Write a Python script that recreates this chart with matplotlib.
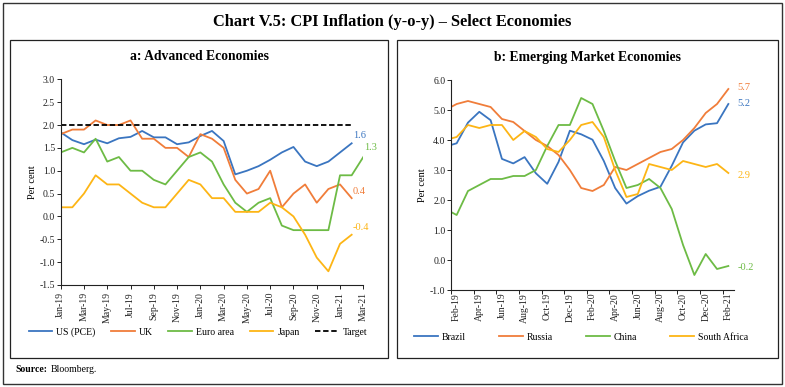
import matplotlib
matplotlib.use("Agg")
import matplotlib.pyplot as plt
from matplotlib.patches import Rectangle

plt.rcParams['font.family'] = ['Liberation Serif', 'DejaVu Serif']

# ---------------- Data ----------------
months_a = ["Jan-19", "Feb-19", "Mar-19", "Apr-19", "May-19", "Jun-19", "Jul-19", "Aug-19",
            "Sep-19", "Oct-19", "Nov-19", "Dec-19", "Jan-20", "Feb-20", "Mar-20", "Apr-20",
            "May-20", "Jun-20", "Jul-20", "Aug-20", "Sep-20", "Oct-20", "Nov-20", "Dec-20",
            "Jan-21", "Feb-21", "Mar-21"]
us_pce = [1.84, 1.67, 1.58, 1.68, 1.60, 1.71, 1.74, 1.87, 1.73, 1.73, 1.58, 1.62, 1.76,
          1.87, 1.65, 0.92, 1.00, 1.10, 1.24, 1.40, 1.52, 1.20, 1.10, 1.20, 1.40, 1.60]
uk = [1.8, 1.9, 1.9, 2.1, 2.0, 2.0, 2.1, 1.7, 1.7, 1.5, 1.5, 1.3, 1.8, 1.7, 1.5, 0.8,
      0.5, 0.6, 1.0, 0.2, 0.5, 0.7, 0.3, 0.6, 0.7, 0.4]
euro = [1.4, 1.5, 1.4, 1.7, 1.2, 1.3, 1.0, 1.0, 0.8, 0.7, 1.0, 1.3, 1.4, 1.2, 0.7, 0.3,
        0.1, 0.3, 0.4, -0.2, -0.3, -0.3, -0.3, -0.3, 0.9, 0.9, 1.3]
japan = [0.2, 0.2, 0.5, 0.9, 0.7, 0.7, 0.5, 0.3, 0.2, 0.2, 0.5, 0.8, 0.7, 0.4, 0.4, 0.1,
         0.1, 0.1, 0.3, 0.2, 0.0, -0.4, -0.9, -1.2, -0.6, -0.4]
target = [2.0] * 26
ticks_a = months_a[::2]

months_b = months_a[:26]
brazil = [3.78, 3.89, 4.58, 4.94, 4.66, 3.37, 3.22, 3.43, 2.89, 2.54, 3.27, 4.31, 4.19,
          4.01, 3.30, 2.40, 1.88, 2.13, 2.31, 2.44, 3.14, 3.92, 4.31, 4.52, 4.56, 5.20]
russia = [5.0, 5.2, 5.3, 5.2, 5.1, 4.7, 4.6, 4.3, 4.0, 3.8, 3.5, 3.0, 2.4, 2.3, 2.5, 3.1,
          3.0, 3.2, 3.4, 3.6, 3.7, 4.0, 4.4, 4.9, 5.2, 5.7]
china = [1.7, 1.5, 2.3, 2.5, 2.7, 2.7, 2.8, 2.8, 3.0, 3.8, 4.5, 4.5, 5.4, 5.2, 4.3, 3.3,
         2.4, 2.5, 2.7, 2.4, 1.7, 0.5, -0.5, 0.2, -0.3, -0.2]
south_africa = [4.0, 4.1, 4.5, 4.4, 4.5, 4.5, 4.0, 4.3, 4.1, 3.7, 3.6, 4.0, 4.5, 4.6, 4.1,
                3.0, 2.1, 2.2, 3.2, 3.1, 3.0, 3.3, 3.2, 3.1, 3.2, 2.9]
ticks_b = months_b[1::2]

BLUE = '#3A75C0'
ORANGE = '#F07D3A'
GREEN = '#6DBB45'
YELLOW = '#FDB515'

W, H = 785, 387
fig = plt.figure(figsize=(W / 100, H / 100), dpi=100)

def fx(px):
    return px / W

def fy(py):
    return 1 - py / H

# frames
fig.patches.append(Rectangle((fx(3), fy(384)), fx(779), 381 / H, transform=fig.transFigure,
                             fill=False, edgecolor='#333333', linewidth=1.0))
fig.patches.append(Rectangle((fx(10), fy(358)), fx(378), 318 / H, transform=fig.transFigure,
                             fill=False, edgecolor='#222222', linewidth=0.9))
fig.patches.append(Rectangle((fx(397), fy(358)), fx(381), 318 / H, transform=fig.transFigure,
                             fill=False, edgecolor='#222222', linewidth=0.9))

fig.text(0.5, fy(22), "Chart V.5: CPI Inflation (y-o-y) – Select Economies", ha='center',
         va='center', fontsize=11.8, fontweight='bold')
fig.text(fx(199), fy(57), "a: Advanced Economies", ha='center', va='center', fontsize=9.8,
         fontweight='bold')
fig.text(fx(588), fy(57), "b: Emerging Market Economies", ha='center', va='center',
         fontsize=9.8, fontweight='bold')
fig.text(fx(15), fy(370), "Source:", ha='left', va='center', fontsize=7, fontweight='bold')
fig.text(fx(51), fy(370), "Bloomberg.", ha='left', va='center', fontsize=7)

def style_axes(ax):
    for s in ['top', 'right']:
        ax.spines[s].set_visible(False)
    for s in ['left', 'bottom']:
        ax.spines[s].set_color('#222222')
        ax.spines[s].set_linewidth(0.8)
    ax.tick_params(axis='y', labelsize=7, length=3, width=0.7, pad=1, colors='#222222')
    ax.tick_params(axis='x', labelsize=7, width=0.7, pad=2, colors='#222222')
    ax.set_ylabel("Per cent", fontsize=7.5, labelpad=2)

# ---------------- Panel a ----------------
axa = fig.add_axes([fx(60.7), fy(285), fx(363.3 - 60.7), (285 - 79.3) / H])
xa = list(range(len(months_a)))
la, = axa.plot(xa[:len(us_pce)], us_pce, color=BLUE, lw=1.3, label="US (PCE)")
lb, = axa.plot(xa[:len(uk)], uk, color=ORANGE, lw=1.3, label="UK")
lc, = axa.plot(xa[:len(euro)], euro, color=GREEN, lw=1.3, label="Euro area")
ld, = axa.plot(xa[:len(japan)], japan, color=YELLOW, lw=1.3, label="Japan")
le, = axa.plot(xa[:len(target)], target, color='black', lw=1.3, ls=(0, (3, 1.5)), label="Target")
axa.set_xlim(0, len(months_a) - 1)
axa.set_ylim(-1.5, 3.0)
axa.set_yticks([-1.5 + 0.5 * i for i in range(10)])
axa.set_yticklabels([f"{-1.5 + 0.5 * i:.1f}" for i in range(10)])
axa.set_xticks(xa[::2])
axa.set_xticklabels(ticks_a, rotation=90)
axa.tick_params(axis='x', length=3)
style_axes(axa)
axa.text(len(us_pce) - 1 + 0.1, us_pce[-1] + 0.17, f"{us_pce[-1]:.1f}", color=BLUE, fontsize=7.5,
         ha='left', va='center', clip_on=False)
axa.text(len(euro) - 1 + 0.1, euro[-1] + 0.2, f"{euro[-1]:.1f}", color=GREEN, fontsize=7.5,
         ha='left', va='center', clip_on=False)
axa.text(len(uk) - 1 + 0.1, uk[-1] + 0.15, f"{uk[-1]:.1f}", color=ORANGE, fontsize=7.5,
         ha='left', va='center', clip_on=False)
axa.text(len(japan) - 1 + 0.1, japan[-1] + 0.15, f"{japan[-1]:.1f}", color=YELLOW, fontsize=7.5,
         ha='left', va='center', clip_on=False)
fig.legend(handles=[la, lb, lc, ld, le], loc='center', bbox_to_anchor=(fx(198), fy(332)),
           ncol=5, frameon=False, fontsize=7, handlelength=2.45, columnspacing=1.6,
           handletextpad=0.4, borderpad=0, borderaxespad=0)

# ---------------- Panel b ----------------
axb = fig.add_axes([fx(451), fy(290), fx(734 - 451), (290 - 80) / H])
xb = list(range(len(months_b)))
ma, = axb.plot(xb, brazil, color=BLUE, lw=1.3, label="Brazil")
mb, = axb.plot(xb, russia, color=ORANGE, lw=1.3, label="Russia")
mc, = axb.plot(xb, china, color=GREEN, lw=1.3, label="China")
md, = axb.plot(xb, south_africa, color=YELLOW, lw=1.3, label="South Africa")
axb.set_xlim(0.5, len(months_b) - 0.5)
axb.set_ylim(-1.0, 6.0)
axb.set_yticks(range(-1, 7))
axb.set_yticklabels([f"{v:.1f}" for v in range(-1, 7)])
axb.set_xticks(xb[1::2])
axb.set_xticklabels(ticks_b, rotation=90)
axb.set_xticks([0.5 + 2 * i for i in range(13)], minor=True)
axb.tick_params(axis='x', which='major', length=0, pad=3)
axb.tick_params(axis='x', which='minor', length=3, width=0.7, colors='#222222')
style_axes(axb)
n = len(months_b) - 1
axb.text(n + 0.8, russia[-1] + 0.05, f"{russia[-1]:.1f}", color=ORANGE, fontsize=7.5,
         ha='left', va='center', clip_on=False)
axb.text(n + 0.8, brazil[-1], f"{brazil[-1]:.1f}", color=BLUE, fontsize=7.5,
         ha='left', va='center', clip_on=False)
axb.text(n + 0.8, south_africa[-1] - 0.1, f"{south_africa[-1]:.1f}", color=YELLOW, fontsize=7.5,
         ha='left', va='center', clip_on=False)
axb.text(n + 0.8, china[-1] - 0.05, f"{china[-1]:.1f}", color=GREEN, fontsize=7.5,
         ha='left', va='center', clip_on=False)
fig.legend(handles=[ma, mb, mc, md], loc='center', bbox_to_anchor=(fx(581), fy(337)),
           ncol=4, frameon=False, fontsize=7, handlelength=2.45, columnspacing=3.4,
           handletextpad=0.4, borderpad=0, borderaxespad=0)

fig.savefig("out.png", dpi=100)
